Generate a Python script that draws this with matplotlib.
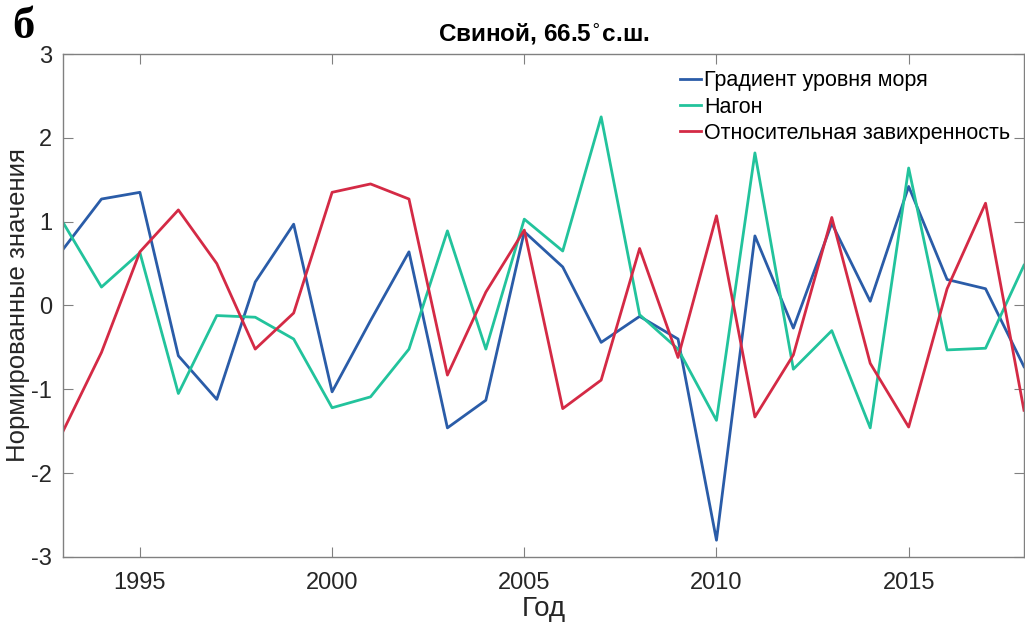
import matplotlib
matplotlib.use("Agg")
import matplotlib.pyplot as plt

years = list(range(1993, 2019))
gradient = [0.67, 1.27, 1.35, -0.60, -1.12, 0.28, 0.97, -1.03, -0.18, 0.64,
            -1.46, -1.13, 0.88, 0.46, -0.44, -0.13, -0.40, -2.80, 0.83, -0.27,
            0.98, 0.05, 1.42, 0.31, 0.20, -0.73]
nagon = [0.99, 0.22, 0.63, -1.05, -0.12, -0.14, -0.40, -1.22, -1.09, -0.52,
         0.89, -0.52, 1.03, 0.65, 2.25, -0.11, -0.52, -1.37, 1.82, -0.76,
         -0.30, -1.46, 1.64, -0.53, -0.51, 0.48]
vort = [-1.50, -0.56, 0.64, 1.14, 0.50, -0.52, -0.09, 1.35, 1.45, 1.27,
        -0.83, 0.16, 0.90, -1.23, -0.89, 0.68, -0.62, 1.07, -1.33, -0.59,
        1.05, -0.69, -1.45, 0.20, 1.22, -1.25]
labels = ["Градиент уровня моря", "Нагон", "Относительная завихренность"]
xticks = [1995, 2000, 2005, 2010, 2015]
yticks = [-3, -2, -1, 0, 1, 2, 3]

plt.rcParams['font.family'] = ['Liberation Sans', 'DejaVu Sans']
plt.rcParams['axes.unicode_minus'] = False

fig = plt.figure(figsize=(10.25, 6.28), dpi=100)
ax = fig.add_axes([0.0615, 0.1131, 0.9375, 0.8009])

ax.plot(years, gradient, color='#2A5CA8', lw=2.0, label=labels[0])
ax.plot(years, nagon, color='#22C39C', lw=2.0, label=labels[1])
ax.plot(years, vort, color='#D42A45', lw=2.0, label=labels[2])

ax.set_xlim(1993, 2018)
ax.set_ylim(-3, 3)
ax.set_xticks(xticks)
ax.set_yticks(yticks)
ax.tick_params(direction='in', top=True, right=True, length=7, width=0.8,
               color='#808080', labelsize=17, labelcolor='#262626')
ax.tick_params(axis='x', pad=11)
ax.tick_params(axis='y', pad=8)
for s in ax.spines.values():
    s.set_color('#808080')
    s.set_linewidth(1.0)

ax.set_xlabel("Год", fontsize=20, labelpad=1, color='#262626')
ax.set_ylabel("Нормированные значения", fontsize=18.5, color='#262626')
ax.yaxis.set_label_coords(-0.034, 0.5)
ax.set_title("Свиной, 66.5$^{\\circ}$с.ш.", fontsize=17.5, fontweight='bold', pad=9)

leg = ax.legend(loc='upper right', fontsize=15.5, frameon=False, handlelength=1.0,
                handletextpad=0.15, labelspacing=0.25, borderaxespad=0.0,
                bbox_to_anchor=(0.995, 0.985))

fig.text(0.012, 0.94, "б", fontsize=32, fontweight='bold',
         family=['Liberation Serif', 'DejaVu Serif'])

fig.savefig("out.png", dpi=100)
